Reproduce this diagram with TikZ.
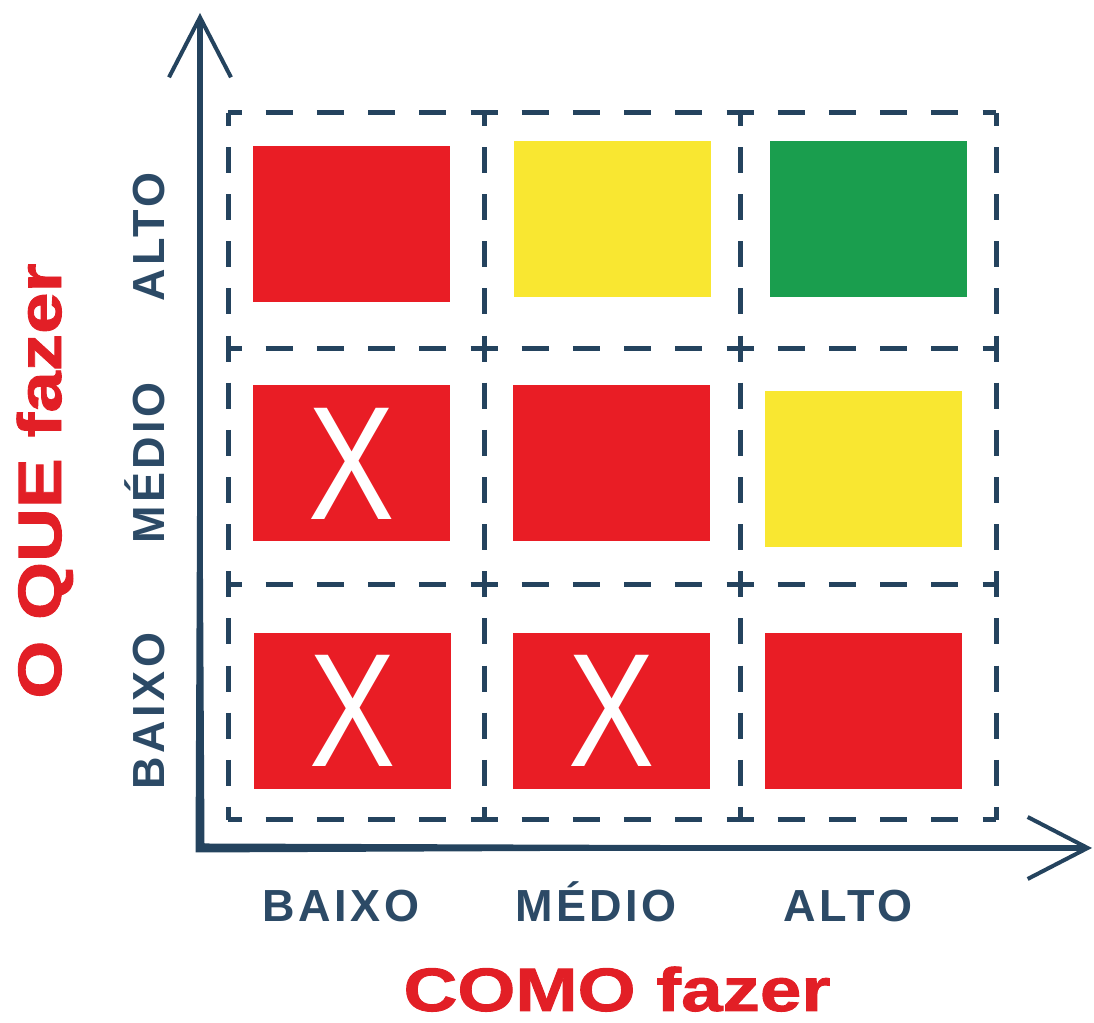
\documentclass[tikz,border=0pt]{standalone}
\usepackage{fontspec}
\setmainfont{Liberation Sans}
\newfontfamily\axisfont{Liberation Sans}[LetterSpace=8.0]
\newfontfamily\titlefont{Liberation Sans}[FakeStretch=1.22,FakeBold=1.5]
\newfontfamily\crossfont{Liberation Sans}[FakeStretch=0.8]
\usepackage{xcolor}
\usepackage{tikz}
\usetikzlibrary{arrows.meta, positioning}

\definecolor{axisblue}{RGB}{36,67,94}
\definecolor{labelblue}{RGB}{44,74,102}
\definecolor{titlered}{RGB}{226,31,38}
\definecolor{cellred}{RGB}{233,29,37}
\definecolor{cellyellow}{RGB}{249,231,49}
\definecolor{cellgreen}{RGB}{26,158,78}

\begin{document}
\begin{tikzpicture}[
  cellbox/.style={minimum width=2.56cm, minimum height=2.3567cm, inner sep=0pt, outer sep=0pt},
  hgrid/.style={draw=axisblue, line width=0.05cm, dash pattern=on 0.27cm off 0.242cm, dash phase=0.135cm},
  vgrid/.style={draw=axisblue, line width=0.05cm, dash pattern=on 0.26cm off 0.2113cm, dash phase=0.13cm},
  colorbox/.style={minimum width=1.97cm, minimum height=1.56cm, inner sep=0pt,
                   text=white, font=\crossfont\fontsize{46pt}{46pt}\selectfont},
  redbox/.style={colorbox, fill=cellred},
  yellowbox/.style={colorbox, fill=cellyellow},
  greenbox/.style={colorbox, fill=cellgreen},
  levellabel/.style={text=labelblue, anchor=base, inner sep=0pt,
                     font=\axisfont\bfseries\fontsize{12.8pt}{14pt}\selectfont},
  axistitle/.style={text=titlered, anchor=base, inner sep=0pt,
                    font=\titlefont\bfseries\fontsize{17.4pt}{19pt}\selectfont},
  axis/.style={draw=axisblue, line width=0.055cm,
               {Straight Barb[length=0.6cm, width=0.62cm, line width=0.04cm]}-{Straight Barb[length=0.6cm, width=0.62cm, line width=0.04cm]}},
]
\useasboundingbox (0,0) rectangle (10.94,10.23);

%% ── Cells (rows: O QUE, columns: COMO) ───────────────────────────────────
\node[cellbox] (cell-alto-baixo)  at (3.56, 7.9217) {};
\node[cellbox] (cell-alto-medio)  at (6.12, 7.9217) {};
\node[cellbox] (cell-alto-alto)   at (8.68, 7.9217) {};
\node[cellbox] (cell-medio-baixo) at (3.56, 5.565)  {};
\node[cellbox] (cell-medio-medio) at (6.12, 5.565)  {};
\node[cellbox] (cell-medio-alto)  at (8.68, 5.565)  {};
\node[cellbox] (cell-baixo-baixo) at (3.56, 3.2083) {};
\node[cellbox] (cell-baixo-medio) at (6.12, 3.2083) {};
\node[cellbox] (cell-baixo-alto)  at (8.68, 3.2083) {};

%% ── Dashed grid ──────────────────────────────────────────────────────────
\draw[hgrid] (cell-alto-baixo.north west)  -- (cell-alto-alto.north east);
\draw[hgrid] (cell-medio-baixo.north west) -- (cell-medio-alto.north east);
\draw[hgrid] (cell-baixo-baixo.north west) -- (cell-baixo-alto.north east);
\draw[hgrid] (cell-baixo-baixo.south west) -- (cell-baixo-alto.south east);
\draw[vgrid] (cell-alto-baixo.north west)  -- (cell-baixo-baixo.south west);
\draw[vgrid] (cell-alto-medio.north west)  -- (cell-baixo-medio.south west);
\draw[vgrid] (cell-alto-alto.north west)   -- (cell-baixo-alto.south west);
\draw[vgrid] (cell-alto-alto.north east)   -- (cell-baixo-alto.south east);

%% ── Coloured fields ──────────────────────────────────────────────────────
\node[redbox]    (fill-alto-baixo)  at (3.515, 7.985) {};
\node[yellowbox] (fill-alto-medio)  at (6.12, 8.035)  {};
\node[greenbox]  (fill-alto-alto)   at (8.685, 8.04)  {};
\node[redbox]    (fill-medio-baixo) at (3.515, 5.595) {X};
\node[redbox]    (fill-medio-medio) at (6.115, 5.595) {};
\node[yellowbox] (fill-medio-alto)  at (8.635, 5.54)  {};
\node[redbox]    (fill-baixo-baixo) at (3.525, 3.12)  {X};
\node[redbox]    (fill-baixo-medio) at (6.115, 3.12)  {X};
\node[redbox]    (fill-baixo-alto)  at (8.635, 3.12)  {};

%% ── Axes ─────────────────────────────────────────────────────────────────
\coordinate (origin) at (2.00, 1.75);
\coordinate (ytip)   at (2.00, 10.10);
\coordinate (xtip)   at (10.92, 1.75);
\draw[axis] (ytip) -- (origin) -- (xtip);
% heavier brush stroke near the corner
\fill[axisblue] (1.955,1.705) -- (1.975,6.2) -- (2.02,6.2) -- (2.045,1.795)
                -- (6.6,1.78) -- (6.6,1.725) -- cycle;

%% ── Level labels ─────────────────────────────────────────────────────────
\node[levellabel, rotate=90] (y-alto)  at (1.64, 7.86) {ALTO};
\node[levellabel, rotate=90] (y-medio) at (1.64, 5.60) {MÉDIO};
\node[levellabel, rotate=90] (y-baixo) at (1.64, 3.12) {BAIXO};
\node[levellabel] (x-baixo) at (3.41, 1.01) {BAIXO};
\node[levellabel] (x-medio) at (5.96, 1.01) {MÉDIO};
\node[levellabel] (x-alto)  at (8.48, 1.01) {ALTO};

%% ── Axis titles ──────────────────────────────────────────────────────────
\node[axistitle, rotate=90] (what) at (0.61, 5.42) {O QUE fazer};
\node[axistitle]            (how)  at (6.17, 0.12) {COMO fazer};

\end{tikzpicture}
\end{document}
